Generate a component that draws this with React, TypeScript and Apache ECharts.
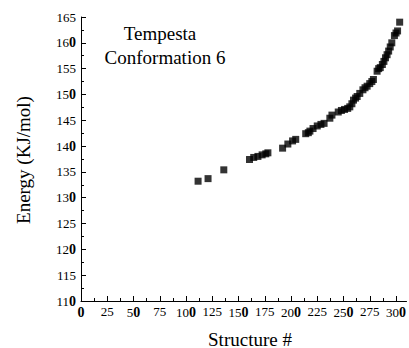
import React, { useEffect, useRef } from "react";
import * as echarts from "echarts";

const structureNo = [
  111.5, 121, 136, 160.5, 164.5, 168.5, 172.5, 176, 178, 192, 197, 201.5, 204.5,
  214, 216.5, 218, 221, 225, 228.5, 231.5, 237, 239, 245, 248, 251, 254, 256, 258,
  259.5, 261.5, 263, 265.5, 268.5, 270.5, 272.5, 275, 277, 278.5, 282, 283.5, 285,
  287, 288.5, 290, 291.5, 293, 294.5, 296, 298.5, 300, 301.5, 303.5,
];
const energy = [
  133.2, 133.7, 135.4, 137.4, 137.8, 138.0, 138.3, 138.5, 138.7, 139.6, 140.4, 141.0, 141.3,
  142.4, 142.6, 142.9, 143.4, 143.9, 144.2, 144.4, 145.4, 146.0, 146.6, 146.9, 147.1, 147.3,
  147.6, 148.2, 148.9, 149.3, 149.6, 150.2, 150.9, 151.3, 151.6, 152.1, 152.5, 152.9, 154.5,
  155.0, 155.2, 155.8, 156.4, 157.1, 157.7, 158.4, 159.2, 160.0, 161.4, 161.9, 162.3, 164.0,
];
const xTicks = [0, 25, 50, 75, 100, 125, 150, 175, 200, 225, 250, 275, 300];
const titleLines = ["Tempesta", "Conformation 6"];
const xTitle = "Structure #";
const yTitle = "Energy (KJ/mol)";

const FONT = "Liberation Serif";

function fmt(v: number, bigStep: number) {
  const s = String(v);
  if (v % bigStep === 0) {
    return s.length > 1 ? `{n|${s.slice(0, -1)}}{b|0}` : `{b|${s}}`;
  }
  return `{n|${s}}`;
}

const rich = {
  n: { fontFamily: FONT, fontSize: 13, color: "#000" },
  b: { fontFamily: FONT, fontSize: 14, fontWeight: "bold", color: "#000" },
};

export default function App() {
  const ref = useRef<HTMLDivElement>(null);
  useEffect(() => {
    if (!ref.current) return;
    const chart = echarts.init(ref.current, null, { renderer: "svg" });
    const data = structureNo.map((x, i) => [x, energy[i]]);
    chart.setOption({
      animation: false,
      backgroundColor: "#fff",
      textStyle: { fontFamily: FONT },
      grid: { left: 81, top: 17, width: 328, height: 284, containLabel: false },
      xAxis: {
        type: "value",
        min: 0,
        max: 310,
        interval: 25,
        splitLine: { show: false },
        axisLine: { show: true, onZero: false, lineStyle: { color: "#000", width: 1 } },
        axisTick: { show: true, inside: true, length: 5, customValues: xTicks, lineStyle: { color: "#000" } },
        minorTick: { show: true, splitNumber: 2, length: 3, lineStyle: { color: "#000" } },
        axisLabel: {
          customValues: xTicks,
          margin: 4,
          color: "#000",
          fontFamily: FONT,
          fontSize: 13,
          formatter: (v: number) => fmt(v, 50),
          rich,
        },
      },
      yAxis: {
        type: "value",
        min: 110,
        max: 165,
        interval: 5,
        splitLine: { show: false },
        axisLine: { show: true, lineStyle: { color: "#000", width: 1 } },
        axisTick: { show: true, inside: true, length: 5, lineStyle: { color: "#000" } },
        minorTick: { show: true, splitNumber: 2, length: 3, lineStyle: { color: "#000" } },
        axisLabel: {
          margin: 5,
          color: "#000",
          fontFamily: FONT,
          fontSize: 13,
          formatter: (v: number) => fmt(v, 10),
          rich,
        },
      },
      graphic: [
        {
          type: "text",
          x: 160,
          y: 33,
          style: {
            text: titleLines[0],
            fontFamily: FONT,
            fontSize: 19,
            fill: "#000",
            textAlign: "center",
            textVerticalAlign: "middle",
          },
        },
        {
          type: "text",
          x: 165,
          y: 57,
          style: {
            text: titleLines[1],
            fontFamily: FONT,
            fontSize: 19,
            fill: "#000",
            textAlign: "center",
            textVerticalAlign: "middle",
          },
        },
        {
          type: "text",
          x: 250,
          y: 339,
          style: {
            text: xTitle,
            fontFamily: FONT,
            fontSize: 19,
            fill: "#000",
            textAlign: "center",
            textVerticalAlign: "middle",
          },
        },
        {
          type: "text",
          x: 23,
          y: 160,
          rotation: Math.PI / 2,
          style: {
            text: yTitle,
            fontFamily: FONT,
            fontSize: 19,
            fill: "#000",
            textAlign: "center",
            textVerticalAlign: "middle",
          },
        },
      ],
      series: [
        {
          type: "scatter",
          data,
          symbol: "rect",
          symbolSize: 7,
          itemStyle: { color: "#000" },
        },
      ],
    });
    return () => chart.dispose();
  }, []);
  return (
    <div
      ref={ref}
      style={{ position: "absolute", left: 0, top: 0, width: 409, height: 348 }}
    />
  );
}
